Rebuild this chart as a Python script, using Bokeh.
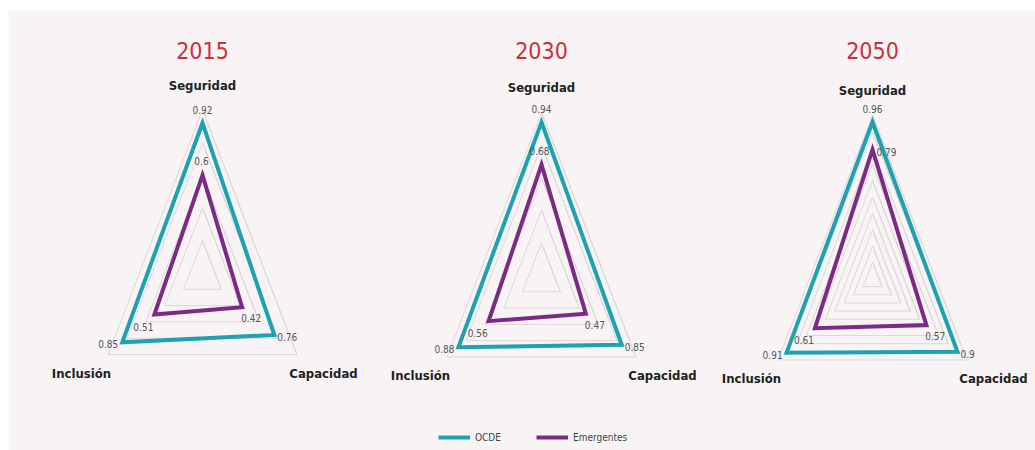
import numpy as np
from bokeh.plotting import figure
from bokeh.models import Range1d, Legend, LegendItem, ColumnDataSource
from bokeh.core.properties import value
from bokeh.embed import file_html
from bokeh.resources import INLINE

# ---------------- data ----------------
years = ["2015", "2030", "2050"]
axis_names = ["Seguridad", "Capacidad", "Inclusión"]
series_names = ["OCDE", "Emergentes"]
ocde = [[0.92, 0.76, 0.85], [0.94, 0.85, 0.88], [0.96, 0.90, 0.91]]
emergentes = [[0.60, 0.42, 0.51], [0.68, 0.47, 0.56], [0.79, 0.57, 0.61]]
grid_step = [0.2, 0.2, 0.1]

# ---------------- layout / style ----------------
W, H = 1035, 450
LEFT, TOP = 8, 10                    # white strip around the shaded area
PX_X, PX_Y = 109.0, 163.0            # pixels per unit of radius
panel_cx = [202, 541, 872]           # panel centres, px from left
panel_cy = [272.5, 275, 278]         # panel centres, px from top
angles = np.deg2rad([90, -30, 210])  # Seguridad, Capacidad, Inclusión
FONT = "DejaVu Sans Condensed"
BG = "#f8f4f5"
colors = {"OCDE": "#1ea2b1", "Emergentes": "#7b2a86"}
GRID_COLOR = "#dcd6d8"

def centre(i):
    return panel_cx[i] / PX_X, (H - panel_cy[i]) / PX_Y

def tri(i, vals):
    cx, cy = centre(i)
    xs = [cx + v * np.cos(a) for v, a in zip(vals, angles)]
    ys = [cy + v * np.sin(a) for v, a in zip(vals, angles)]
    # close and overlap first edge so the start corner gets a proper join
    return xs + xs[:2], ys + ys[:2]

p = figure(width=W, height=H, x_range=Range1d(LEFT / PX_X, W / PX_X),
           y_range=Range1d(0, (H - TOP) / PX_Y),
           output_backend="svg", toolbar_location=None,
           min_border_left=LEFT, min_border_top=TOP, min_border_right=0, min_border_bottom=0,
           x_axis_location=None, y_axis_location=None,
           background_fill_color=BG, border_fill_color="white", outline_line_color=None)
p.xgrid.visible = False
p.ygrid.visible = False

# grid triangles
gx, gy = [], []
for i in range(3):
    n = int(round(1.0 / grid_step[i]))
    for k in range(1, n + 1):
        r = k * grid_step[i]
        xs, ys = tri(i, [r, r, r])
        gx.append(xs); gy.append(ys)
p.multi_line(gx, gy, line_color=GRID_COLOR, line_width=1)

# series
renderers = {}
for name, data in [("Emergentes", emergentes), ("OCDE", ocde)]:
    xs_all, ys_all = [], []
    for i in range(3):
        xs, ys = tri(i, data[i])
        xs_all.append(xs); ys_all.append(ys)
    renderers[name] = p.multi_line(xs_all, ys_all, line_color=colors[name], line_width=4,
                                   line_join="miter")

# value labels
label_off = {
    "OCDE": [[(0, -13, "center")] * 3, [(3, 2, "left")] * 3, [(-4, 2, "right")] * 3],
    "Emergentes": [[(-1, -14, "center"), (-2, -14, "center"), (4, 2, "left")],
                   [(9, 11, "center")] * 3, [(-11, 12, "center")] * 3],
}
for name, data in [("OCDE", ocde), ("Emergentes", emergentes)]:
    for align in ["center", "left", "right"]:
        src = dict(x=[], y=[], t=[], xo=[], yo=[])
        for i in range(3):
            cx, cy = centre(i)
            for j in range(3):
                xo, yo, al = label_off[name][j][i]
                if al != align:
                    continue
                v = data[i][j]
                src["x"].append(cx + v * np.cos(angles[j]))
                src["y"].append(cy + v * np.sin(angles[j]))
                src["t"].append(f"{v:g}")
                src["xo"].append(xo); src["yo"].append(yo)
        if src["x"]:
            p.text("x", "y", text="t", x_offset="xo", y_offset="yo",
                   source=ColumnDataSource(src), text_font=value(FONT),
                   text_font_size="10px", text_color="#555555",
                   text_align=align, text_baseline="middle")

# axis names
ax_src = dict(x=[], y=[], t=[], xo=[], yo=[])
ax_px = [(0, -188), (121, 100), (-121, 100)]
for i in range(3):
    cx, cy = centre(i)
    for j in range(3):
        ax_src["x"].append(cx); ax_src["y"].append(cy)
        ax_src["t"].append(axis_names[j])
        ax_src["xo"].append(ax_px[j][0]); ax_src["yo"].append(ax_px[j][1])
p.text("x", "y", text="t", x_offset="xo", y_offset="yo", source=ColumnDataSource(ax_src),
       text_font=value(FONT), text_font_size="13px", text_font_style="bold",
       text_color="#222222", text_align="center", text_baseline="middle")

# titles
t_src = dict(x=[centre(i)[0] for i in range(3)], y=[(H - 50) / PX_Y] * 3, t=years)
p.text("x", "y", text="t", source=ColumnDataSource(t_src), text_font=value(FONT),
       text_font_size="23px", text_color="#cf2e3b", text_align="center",
       text_baseline="middle")

legend = Legend(items=[LegendItem(label=n, renderers=[renderers[n]]) for n in series_names],
                orientation="horizontal", location=(430, 7), padding=0, margin=0,
                spacing=35, label_standoff=5, glyph_width=32, glyph_height=12,
                label_height=12, label_text_font=FONT, label_text_font_size="10px",
                label_text_color="#444444", background_fill_alpha=0,
                border_line_color=None)
p.add_layout(legend)

open("out.html", "w").write(file_html(p, INLINE))
